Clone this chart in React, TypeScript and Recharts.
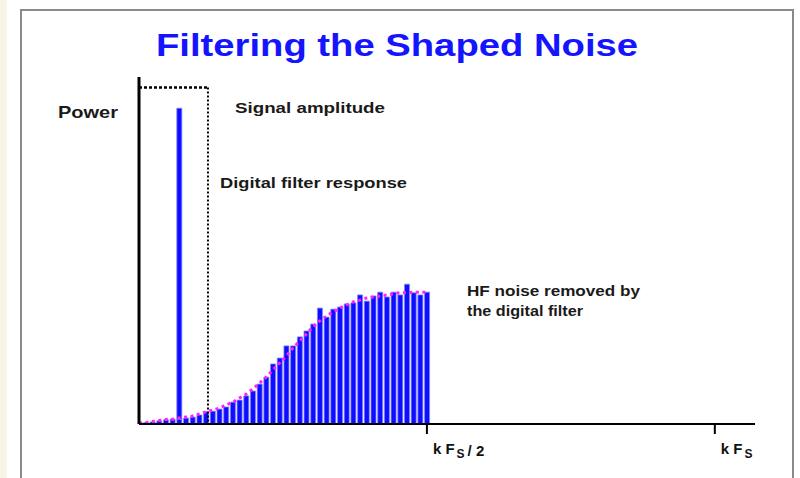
import React from "react";
import {
  Bar,
  ComposedChart,
  Line,
  ReferenceLine,
  XAxis,
  YAxis,
} from "recharts";

// shaped noise power per frequency bin (0 .. kFs/2)
const NOISE = [
  0.3, 0.4, 0.6, 0.9, 1.2, 1.4, 1.4, 1.7, 2.0, 2.6, 3.5, 3.7, 4.3, 4.9, 6.3,
  6.9, 8.1, 9.5, 11.5, 13.5, 17.3, 19.0, 22.5, 22.5, 25.1, 26.8, 28.8, 33.4,
  30.8, 33.1, 33.7, 34.6, 34.9, 37.2, 35.4, 36.9, 38.0, 36.6, 38.0, 37.2, 40.3,
  37.8, 37.2, 38.0,
];

// smooth noise envelope (magenta dotted curve)
const ENVELOPE = [
  0.3, 0.4, 0.7, 1.0, 1.3, 1.4, 1.7, 2.0, 2.3, 2.9, 3.5, 4.0, 4.6, 5.5, 6.3,
  7.5, 8.6, 10.1, 11.8, 13.5, 15.6, 17.6, 19.6, 21.9, 23.9, 25.9, 28.0, 29.7,
  31.1, 32.3, 33.4, 34.3, 35.2, 35.7, 36.3, 36.6, 36.9, 37.2, 37.5, 37.8, 37.8,
  38.0, 38.0, 38.0,
];

const SIGNAL_BIN = 6;
const SIGNAL_AMPLITUDE = 89.6;

// digital filter passband (dotted box)
const FILTER_EDGE = 10.3;
const FILTER_LEVEL = 97;

// x ticks: kFs/2 and kFs
const TICKS = [43, 86];
const TICK_LABELS = ["half", "full"];
const X_MAX = 92;

const data = NOISE.map((noise, bin) => ({
  bin,
  noise,
  signal: bin === SIGNAL_BIN ? SIGNAL_AMPLITUDE : undefined,
  envelope: ENVELOPE[bin],
}));

const labelFont = "'Liberation Sans', Arial, Helvetica, sans-serif";

function FreqTick(props: any) {
  const { x, y, payload } = props;
  const idx = TICKS.indexOf(payload.value);
  const half = TICK_LABELS[idx] === "half";
  return (
    <text
      x={x + 6}
      y={y + 18}
      fontFamily={labelFont}
      fontWeight="bold"
      fontSize={15}
      fill="#111"
    >
      k F
      <tspan fontSize={12} dy={4} dx={2}>
        S
      </tspan>
      {half ? (
        <tspan dy={-2} dx={3}>
          / 2
        </tspan>
      ) : null}
    </text>
  );
}

export default function App() {
  return (
    <div
      style={{
        position: "absolute",
        left: 0,
        top: 0,
        width: 800,
        height: 478,
        background: "#fff",
        overflow: "hidden",
      }}
    >
      <div
        style={{
          position: "absolute",
          left: 0,
          top: 0,
          width: 7,
          height: 478,
          background: "#f8f5e6",
        }}
      />
      <div
        style={{
          position: "absolute",
          left: 20,
          top: 9,
          width: 774,
          height: 500,
          border: "2px solid #8a8a8a",
          boxSizing: "border-box",
        }}
      />
      <div style={{ position: "absolute", left: 0, top: 0 }}>
        <ComposedChart
          width={800}
          height={478}
          data={data}
          margin={{ top: 77, right: 45, bottom: 24, left: 139 }}
        >
          <XAxis
            dataKey="bin"
            type="number"
            domain={[0, X_MAX]}
            ticks={TICKS}
            height={30}
            tickSize={10}
            tickLine={{ stroke: "#000", strokeWidth: 2 }}
            axisLine={{ stroke: "#000", strokeWidth: 2 }}
            tick={<FreqTick />}
            allowDataOverflow
          />
          <YAxis type="number" domain={[0, 100]} hide />
          <Bar
            dataKey="noise"
            stackId="p"
            barSize={5}
            fill="#0d0dff"
            stroke="#8080ff"
            strokeWidth={0.8}
            isAnimationActive={false}
          />
          <Bar
            dataKey="signal"
            stackId="p"
            barSize={5}
            fill="#0d0dff"
            stroke="#8080ff"
            strokeWidth={0.8}
            isAnimationActive={false}
          />
          <Line
            dataKey="envelope"
            type="monotone"
            stroke="#ff22ff"
            strokeWidth={3}
            strokeDasharray="3 3.5"
            dot={false}
            isAnimationActive={false}
          />
          <ReferenceLine
            segment={[
              { x: 0, y: FILTER_LEVEL },
              { x: FILTER_EDGE, y: FILTER_LEVEL },
            ]}
            stroke="#000"
            strokeWidth={2.5}
            strokeDasharray="3 2"
          />
          <ReferenceLine
            segment={[
              { x: FILTER_EDGE, y: FILTER_LEVEL },
              { x: FILTER_EDGE, y: 0 },
            ]}
            stroke="#000"
            strokeWidth={2}
            strokeDasharray="2 2"
          />
          <ReferenceLine x={0} stroke="#000" strokeWidth={3} />
        </ComposedChart>
      </div>
      <svg
        width={800}
        height={478}
        style={{ position: "absolute", left: 0, top: 0, pointerEvents: "none" }}
      >
        <text
          x={156}
          y={56}
          fontFamily={labelFont}
          fontWeight="bold"
          fontSize={32}
          fill="#1414ff"
          textLength={482}
          lengthAdjust="spacingAndGlyphs"
        >
          Filtering the Shaped Noise
        </text>
        <g fontFamily={labelFont} fontWeight="bold" fill="#1a1a1a">
          <text x={58} y={118} fontSize={17} textLength={60} lengthAdjust="spacingAndGlyphs">
            Power
          </text>
          <text x={235} y={113} fontSize={15} textLength={150} lengthAdjust="spacingAndGlyphs">
            Signal  amplitude
          </text>
          <text x={220} y={188} fontSize={15} textLength={187} lengthAdjust="spacingAndGlyphs">
            Digital filter response
          </text>
          <text x={467} y={296} fontSize={15} textLength={173} lengthAdjust="spacingAndGlyphs">
            HF noise removed  by
          </text>
          <text x={467} y={316} fontSize={15} textLength={116} lengthAdjust="spacingAndGlyphs">
            the digital filter
          </text>
        </g>
      </svg>
    </div>
  );
}
